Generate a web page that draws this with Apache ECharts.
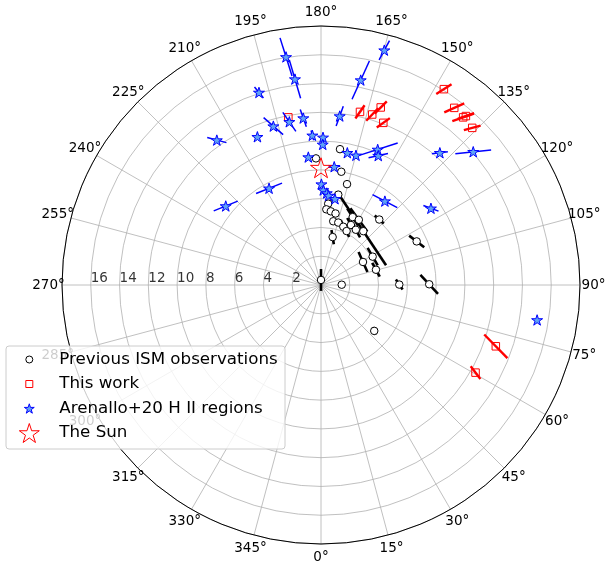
<!DOCTYPE html>
<html>
<head>
<meta charset="utf-8">
<script src="https://cdn.jsdelivr.net/npm/echarts@6/dist/echarts.min.js"></script>
<style>
html, body { margin: 0; padding: 0; background: #ffffff; }
#chart { width: 606px; height: 569px; }
</style>
</head>
<body>
<div id="chart"></div>
<script>
// Galactocentric radius of the Sun (kpc); the Sun sits at azimuth 180°.
const SUN_R = 8.15;
const R_MAX = 18;

// Radial tick labels (kpc) and azimuth tick labels (deg)
const radialTicks = [2, 4, 6, 8, 10, 12, 14, 16];
const azimuthTicks = [0, 15, 30, 45, 60, 75, 90, 105, 120, 135, 150, 165, 180, 195, 210, 225, 240, 255, 270, 285, 300, 315, 330, 345];

// Galactocentric x (toward azimuth 90°), y (toward azimuth 180°), in kpc,
// plus half-length of the distance uncertainty along the line of sight.
const prevX   = [1.32, -0.35, 1.41, 1.81, 1.20, 0.50, 0.37, 0.68, 1.01, 0.85, 1.20, 1.55, 1.78, 2.20, 2.63, 2.08, 2.42, 2.94, 0.81, 4.05, 6.65, 2.92, 3.59, 3.82, 0.00, 1.44, 5.44, 7.52, 3.70];
const prevY   = [9.44, 8.80, 7.87, 7.01, 6.28, 5.65, 5.26, 5.12, 4.97, 4.43, 4.34, 4.05, 3.75, 4.72, 4.53, 4.17, 3.84, 3.74, 3.33, 4.55, 3.03, 1.60, 1.97, 1.06, 0.35, 0.02, 0.03, 0.05, -3.19];
const prevErr = [0, 0, 0, 0, 0, 0, 0.14, 0.14, 0.20, 0.20, 0.20, 0.50, 0.45, 0.70, 1.00, 0.55, 0.60, 2.85, 0.50, 0.42, 0.66, 0.76, 0.70, 0.55, 0.76, 0, 0.42, 0.90, 0.28];

const workX   = [2.71, 3.56, 4.15, 4.33, 8.54, 9.26, 9.88, 10.07, 10.51, 12.15, 10.74, -2.27];
const workY   = [12.03, 11.85, 12.34, 11.27, 13.61, 12.31, 11.65, 11.74, 10.92, -4.26, -6.09, 11.65];
const workErr = [0.56, 0.60, 0.60, 0.56, 0.63, 0.76, 0.80, 0.60, 0.60, 1.15, 0.56, 0];

const hiiX   = [4.40, 2.76, 1.30, -1.23, -2.43, -1.81, -4.31, -2.20, -3.31, -0.60, -7.24, -4.42, -0.88, -3.61, -6.62, 0.14, 0.12, 1.83, 2.43, 3.94, 3.98, 0.92, 0.03, 0.16, 0.40, 0.53, 0.97, 4.44, 7.64, 8.26, 10.58, 15.02];
const hiiY   = [16.32, 14.24, 11.74, 11.60, 15.85, 14.31, 13.38, 11.34, 11.04, 10.40, 10.07, 10.30, 8.89, 6.72, 5.49, 10.26, 9.77, 9.19, 9.01, 9.42, 8.99, 8.22, 7.01, 6.60, 6.39, 6.22, 5.99, 5.83, 5.33, 9.19, 9.26, -2.43];
const hiiErr = [0.76, 1.46, 0.73, 0.63, 1.39, 1.39, 0.49, 0.80, 0.90, 0.35, 0.69, 0, 0.15, 0.97, 0.90, 0.20, 0.20, 0.15, 0.20, 1.46, 0.69, 0.42, 0.15, 0.15, 0.15, 0.15, 0.20, 0.97, 0.56, 0.56, 1.25, 0];

const legendNames = ['Previous ISM observations', 'This work', 'Arenallo+20 H II regions', 'The Sun'];

const FONT = 'DejaVu Sans';
const STAR_PTS = [[0, -1], [0.2245, -0.309], [0.951, -0.309], [0.3633, 0.118], [0.588, 0.809],
                  [0, 0.382], [-0.588, 0.809], [-0.3633, 0.118], [-0.951, -0.309], [-0.2245, -0.309]];
const STAR = 'path://' + STAR_PTS.map((p, i) => (i ? 'L' : 'M') + p[0] + ',' + p[1]).join(' ') + ' Z';
const HII_FILL = '#5fa3f5';

// (x, y) -> [radius, azimuth in degrees]
function toPolar(x, y) {
  const r = Math.hypot(x, y);
  let a = Math.atan2(x, -y) * 180 / Math.PI;
  if (a < 0) a += 360;
  return [r, a];
}

// Points plus distance error bars along the sight line from the Sun
function build(X, Y, E) {
  const pts = [], bars = [];
  for (let i = 0; i < X.length; i++) {
    pts.push(toPolar(X[i], Y[i]));
    if (E[i] > 0) {
      const dx = X[i], dy = Y[i] - SUN_R;
      const n = Math.hypot(dx, dy);
      const ux = dx / n, uy = dy / n;
      const a = toPolar(X[i] - E[i] * ux, Y[i] - E[i] * uy);
      const b = toPolar(X[i] + E[i] * ux, Y[i] + E[i] * uy);
      bars.push([a[0], a[1], b[0], b[1]]);
    }
  }
  return { pts, bars };
}

const prev = build(prevX, prevY, prevErr);
const work = build(workX, workY, workErr);
const hii  = build(hiiX, hiiY, hiiErr);

function barSeries(data, color, width, z) {
  return {
    type: 'custom',
    coordinateSystem: 'polar',
    silent: true,
    z: z,
    data: data,
    renderItem: function (params, api) {
      const p1 = api.coord([api.value(0), api.value(1)]);
      const p2 = api.coord([api.value(2), api.value(3)]);
      return {
        type: 'line',
        shape: { x1: p1[0], y1: p1[1], x2: p2[0], y2: p2[1] },
        style: { stroke: color, lineWidth: width }
      };
    }
  };
}

// Legend box drawn as graphic elements
const LEG = { x: 6, y: 346, w: 279, h: 103, iconX: 29.3, textX: 59.3, rows: [359.5, 384, 408.5, 433] };
function starPoints(cx, cy, r) {
  return STAR_PTS.map(p => [cx + p[0] * r, cy + p[1] * r]);
}
const legendGraphics = [
  { type: 'rect', x: LEG.x, y: LEG.y, z: 50, shape: { width: LEG.w, height: LEG.h, r: 3 },
    style: { fill: 'rgba(255,255,255,0.8)', stroke: '#cccccc', lineWidth: 1 } },
  { type: 'circle', z: 51, shape: { cx: LEG.iconX, cy: LEG.rows[0], r: 3.5 },
    style: { fill: '#ffffff', stroke: '#000000', lineWidth: 1 } },
  { type: 'rect', z: 51, shape: { x: LEG.iconX - 3.5, y: LEG.rows[1] - 3.5, width: 7, height: 7 },
    style: { fill: '#ffffff', stroke: '#ff0000', lineWidth: 1 } },
  { type: 'polygon', z: 51, shape: { points: starPoints(LEG.iconX, LEG.rows[2] + 0.5, 5.2) },
    style: { fill: HII_FILL, stroke: '#0000ff', lineWidth: 1 } },
  { type: 'polygon', z: 51, shape: { points: starPoints(LEG.iconX, LEG.rows[3] + 1, 10.5) },
    style: { fill: 'none', stroke: '#ff0000', lineWidth: 1 } }
].concat(legendNames.map((name, i) => ({
  type: 'text', z: 52, x: LEG.textX, y: LEG.rows[i],
  style: { text: name, fontFamily: FONT, fontSize: 16.7, fill: '#000', align: 'left', verticalAlign: 'middle' }
})));

const chart = echarts.init(document.getElementById('chart'), null, { renderer: 'canvas' });
chart.setOption({
  animation: false,
  backgroundColor: '#ffffff',
  polar: { center: [321, 285], radius: 259 },
  angleAxis: {
    type: 'value', min: 0, max: 360, interval: 15,
    startAngle: 270, clockwise: false,
    axisLine: { lineStyle: { color: '#000', width: 1 } },
    axisTick: { show: false },
    axisLabel: { show: false },
    splitLine: { show: true, lineStyle: { color: '#b0b0b0', width: 0.8 } }
  },
  radiusAxis: {
    type: 'value', min: 0, max: R_MAX, interval: 2,
    axisLine: { show: false }, axisTick: { show: false }, axisLabel: { show: false },
    splitLine: { show: true, lineStyle: { color: '#b0b0b0', width: 0.8 } }
  },
  series: [
    {
      // radial tick labels along azimuth 270°
      type: 'scatter', coordinateSystem: 'polar', silent: true, z: 1,
      symbolSize: 0,
      data: radialTicks.map(r => [r, 270]),
      label: {
        show: true, position: 'right', distance: 0, offset: [0, -7],
        fontFamily: FONT, fontSize: 13.5, color: '#000',
        formatter: p => String(p.value[0])
      }
    },
    barSeries(prev.bars, '#000000', 2.6, 3),
    {
      name: legendNames[0], type: 'scatter', coordinateSystem: 'polar', z: 4,
      symbol: 'circle', symbolSize: 7.5,
      itemStyle: { color: '#ffffff', borderColor: '#000000', borderWidth: 1, opacity: 1 },
      data: prev.pts
    },
    barSeries(work.bars, '#ff0000', 2.4, 5),
    {
      name: legendNames[1], type: 'scatter', coordinateSystem: 'polar', z: 6,
      symbol: 'rect', symbolSize: 7.5,
      itemStyle: { color: 'rgba(255,255,255,0)', borderColor: '#ff0000', borderWidth: 1, opacity: 1 },
      data: work.pts
    },
    barSeries(hii.bars, '#0000ff', 1.5, 7),
    {
      name: legendNames[2], type: 'scatter', coordinateSystem: 'polar', z: 8,
      symbol: STAR, symbolSize: 11, symbolKeepAspect: true,
      itemStyle: { color: HII_FILL, borderColor: '#0000ff', borderWidth: 1, opacity: 1 },
      data: hii.pts
    },
    {
      name: legendNames[3], type: 'scatter', coordinateSystem: 'polar', z: 9,
      symbol: STAR, symbolSize: 21, symbolKeepAspect: true,
      itemStyle: { color: 'rgba(255,255,255,0)', borderColor: '#ff0000', borderWidth: 1, opacity: 1 },
      data: [[SUN_R, 180]]
    }
  ]
});

// Azimuth tick labels, centred just outside the rim (positions from the polar system)
const azimuthLabels = azimuthTicks.map(a => {
  const p = chart.convertToPixel({ polarIndex: 0 }, [R_MAX + 0.94, a]);
  return {
    type: 'text', z: 10, x: p[0], y: p[1],
    style: { text: a + '°', fontFamily: FONT, fontSize: 13.5, fill: '#000', align: 'center', verticalAlign: 'middle' }
  };
});
chart.setOption({ graphic: azimuthLabels.concat(legendGraphics) });
</script>
</body>
</html>
